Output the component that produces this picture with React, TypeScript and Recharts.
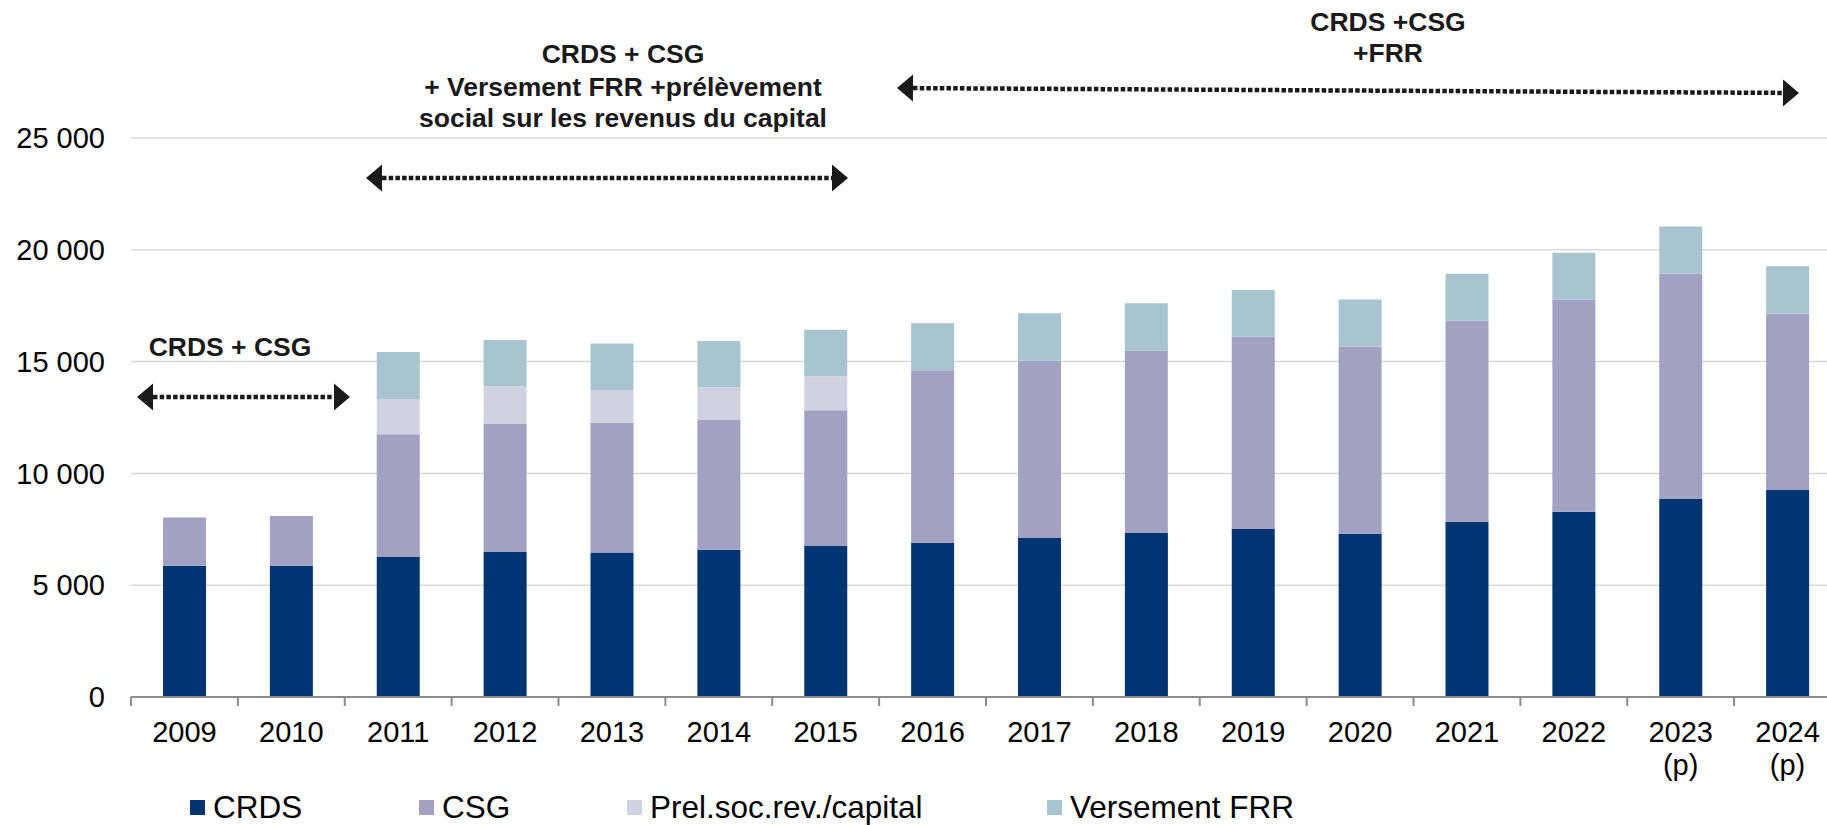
import React from "react";
import { BarChart, Bar, XAxis, YAxis, CartesianGrid } from "recharts";

const years = ["2009", "2010", "2011", "2012", "2013", "2014", "2015", "2016", "2017", "2018", "2019", "2020", "2021", "2022", "2023", "2024"];
const yearNotes = ["", "", "", "", "", "", "", "", "", "", "", "", "", "", "(p)", "(p)"];

const crds = [5870, 5870, 6260, 6490, 6460, 6580, 6750, 6900, 7110, 7340, 7510, 7300, 7840, 8290, 8860, 9260];
const csg = [2160, 2225, 5490, 5720, 5810, 5810, 6070, 7710, 7930, 8150, 8600, 8380, 8990, 9480, 10080, 7890];
const prelCapital = [0, 0, 1580, 1690, 1450, 1460, 1520, 0, 0, 0, 0, 0, 0, 0, 0, 0];
const versementFrr = [0, 0, 2100, 2070, 2090, 2070, 2090, 2100, 2120, 2120, 2090, 2100, 2100, 2100, 2100, 2110];

const yTicks = [0, 5000, 10000, 15000, 20000, 25000];

const series = [
  { key: "crds", name: "CRDS", color: "#003572" },
  { key: "csg", name: "CSG", color: "#a3a1c1" },
  { key: "prel", name: "Prel.soc.rev./capital", color: "#d2d1e1" },
  { key: "frr", name: "Versement FRR", color: "#a8c5cf" },
];

const data = years.map((y, i) => ({
  year: y,
  note: yearNotes[i],
  crds: crds[i],
  csg: csg[i],
  prel: prelCapital[i],
  frr: versementFrr[i],
}));

const CHART_W = 1841;
const CHART_H = 825;
const Y_AXIS_W = 131;
const STEP = (CHART_W - Y_AXIS_W) / years.length;

const fmt = (v: number) => String(v).replace(/\B(?=(\d{3})+(?!\d))/g, " ");

const XTick = (props: any) => {
  const { x, y, payload, index } = props;
  const note = yearNotes[index];
  return (
    <g>
      <line x1={x - STEP / 2} x2={x - STEP / 2} y1={y} y2={y + 9} stroke="#8c8c8c" strokeWidth={2} />
      {index === years.length - 1 && (
        <line x1={x + STEP / 2} x2={x + STEP / 2} y1={y} y2={y + 9} stroke="#8c8c8c" strokeWidth={2} />
      )}
      <text x={x} y={y + 45} textAnchor="middle" fontSize={29} fill="#000">
        {payload.value}
      </text>
      {note && (
        <text x={x} y={y + 78} textAnchor="middle" fontSize={29} fill="#000">
          {note}
        </text>
      )}
    </g>
  );
};

const Arrow = ({ x1, y1, x2, y2 }: { x1: number; y1: number; x2: number; y2: number }) => {
  const ang = Math.atan2(y2 - y1, x2 - x1);
  const len = 16;
  const half = 13.5;
  const head = (tx: number, ty: number, dir: number) => {
    const bx = tx - Math.cos(ang) * len * dir;
    const by = ty - Math.sin(ang) * len * dir;
    const px = -Math.sin(ang) * half;
    const py = Math.cos(ang) * half;
    return `${tx},${ty} ${bx + px},${by + py} ${bx - px},${by - py}`;
  };
  return (
    <g>
      <line
        x1={x1 + Math.cos(ang) * len}
        y1={y1 + Math.sin(ang) * len}
        x2={x2 - Math.cos(ang) * len}
        y2={y2 - Math.sin(ang) * len}
        stroke="#1a1a1a"
        strokeWidth={4.5}
        strokeDasharray="4.5 2.2"
      />
      <polygon points={head(x1, y1, -1)} fill="#1a1a1a" />
      <polygon points={head(x2, y2, 1)} fill="#1a1a1a" />
    </g>
  );
};

const boldText = { fontSize: 26.5, fontWeight: 700, fill: "#1a1a1a", textAnchor: "middle" as const };

export default function App() {
  const legendLefts = [190, 419, 627, 1047];
  return (
    <div
      style={{
        position: "fixed",
        left: 0,
        top: 0,
        width: 1827,
        height: 825,
        overflow: "hidden",
        background: "#fff",
        fontFamily: "'Liberation Sans', Arial, sans-serif",
      }}
    >
      <BarChart
        width={CHART_W}
        height={CHART_H}
        data={data}
        margin={{ top: 138, right: 0, bottom: 28, left: 0 }}
        barSize={43}
      >
        <CartesianGrid vertical={false} stroke="#d9d9d9" strokeWidth={1.5} />
        <YAxis
          width={Y_AXIS_W}
          domain={[0, 25000]}
          ticks={yTicks}
          tickFormatter={fmt}
          axisLine={false}
          tickLine={false}
          tickSize={0}
          tickMargin={26}
          tick={{ fontSize: 29, fill: "#000" }}
        />
        <XAxis
          dataKey="year"
          height={100}
          interval={0}
          tickLine={false}
          tickSize={0}
          tickMargin={0}
          axisLine={{ stroke: "#8c8c8c", strokeWidth: 2 }}
          tick={<XTick />}
        />
        {series.map((s) => (
          <Bar key={s.key} dataKey={s.key} name={s.name} stackId="a" fill={s.color} isAnimationActive={false} />
        ))}
      </BarChart>

      <svg width={1827} height={825} style={{ position: "absolute", left: 0, top: 0, pointerEvents: "none" }}>
        <text x={230} y={356} {...boldText}>CRDS + CSG</text>
        <Arrow x1={137} y1={397} x2={350} y2={397} />

        <text x={623} y={63} {...boldText}>CRDS + CSG</text>
        <text x={623} y={96} {...boldText}>+ Versement FRR +prélèvement</text>
        <text x={623} y={127} {...boldText}>social sur les revenus du capital</text>
        <Arrow x1={366} y1={178} x2={848} y2={178} />

        <text x={1388} y={31} {...boldText}>CRDS +CSG</text>
        <text x={1388} y={62} {...boldText}>+FRR</text>
        <Arrow x1={897} y1={88} x2={1799} y2={93} />
      </svg>

      <div style={{ position: "absolute", left: 0, top: 0, width: 1827, height: 825, pointerEvents: "none" }}>
        {series.map((s, i) => (
          <div
            key={s.key}
            style={{
              position: "absolute",
              left: legendLefts[i],
              top: 790,
              display: "flex",
              alignItems: "center",
              whiteSpace: "nowrap",
            }}
          >
            <span style={{ display: "inline-block", width: 15, height: 15, background: s.color, marginRight: 8 }} />
            <span style={{ fontSize: 31.5, color: "#000", lineHeight: "34px" }}>{s.name}</span>
          </div>
        ))}
      </div>
    </div>
  );
}
